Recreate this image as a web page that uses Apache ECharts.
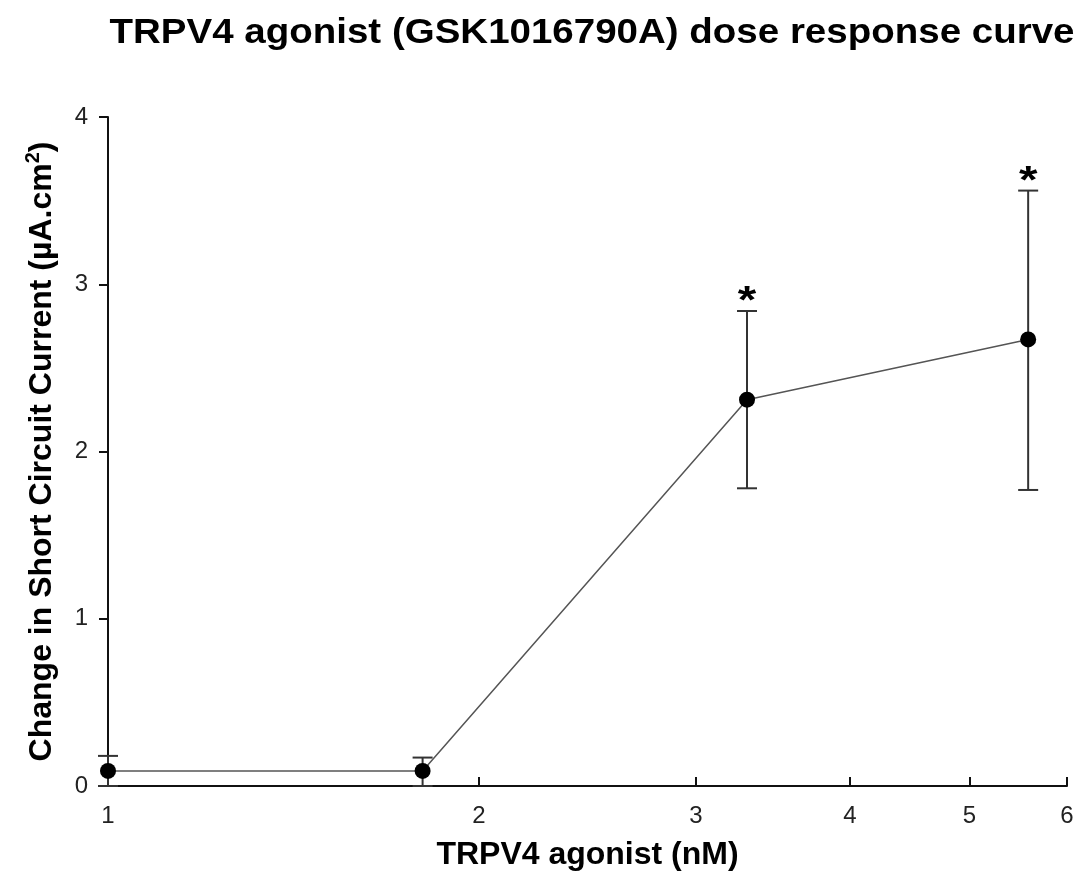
<!DOCTYPE html>
<html>
<head>
<meta charset="utf-8">
<script src="https://cdn.jsdelivr.net/npm/echarts@6/dist/echarts.min.js"></script>
<style>html,body{margin:0;padding:0;background:#fff;}#c{width:1084px;height:876px;}</style>
</head>
<body>
<div id="c"></div>
<script>
var doses = [1, 1.8, 3.3, 5.58];
var means = [0.09, 0.09, 2.31, 2.67];
var errLow = [0.0, 0.0, 1.78, 1.77];
var errHigh = [0.18, 0.17, 2.84, 3.56];
var significant = [false, false, true, true];
var xTicks = [2, 3, 4, 5, 6];
var xLabels = [1, 2, 3, 4, 5, 6];
var titleText = 'TRPV4 agonist (GSK1016790A) dose response curve';

var chart = echarts.init(document.getElementById('c'));
var errData = doses.map(function (d, i) { return [d, errLow[i], errHigh[i], significant[i] ? 1 : 0]; });
var lineData = doses.map(function (d, i) { return [d, means[i]]; });

chart.setOption({
  animation: false,
  graphic: [{
    type: 'text', x: 592, y: 33, scaleX: 1.1,
    style: { text: titleText, font: 'bold 35px "Liberation Sans"', fill: '#000', align: 'center', verticalAlign: 'middle' }
  }],
  grid: { left: 108, right: 17, top: 117, bottom: 89 },
  xAxis: {
    type: 'log', logBase: 10, min: 1, max: 6,
    name: 'TRPV4 agonist (nM)', nameLocation: 'middle', nameGap: 53,
    nameTextStyle: { fontFamily: 'Liberation Sans', fontWeight: 'bold', fontSize: 32, color: '#000' },
    axisLine: { onZero: false, lineStyle: { color: '#111', width: 2 } },
    axisTick: { show: true, inside: true, length: 9, lineStyle: { color: '#111', width: 2 }, customValues: xTicks },
    axisLabel: { customValues: xLabels, margin: 18, fontFamily: 'Liberation Sans', fontSize: 24, color: '#222',
      formatter: function (v) { return String(Math.round(v)); } },
    splitLine: { show: false },
    minorTick: { show: false }
  },
  yAxis: {
    type: 'value', min: 0, max: 4, interval: 1,
    name: '{t|Change in Short Circuit Current (µA.cm}{s|2}{t|)}', nameLocation: 'middle', nameGap: 47,
    nameRotate: 90,
    nameTextStyle: { rich: {
      t: { fontFamily: 'Liberation Sans', fontWeight: 'bold', fontSize: 32, color: '#000' },
      s: { fontFamily: 'Liberation Sans', fontWeight: 'bold', fontSize: 20, color: '#000', verticalAlign: 'top', padding: [0, 0, 18, 0] }
    } },
    axisLine: { show: true, lineStyle: { color: '#111', width: 2 } },
    axisTick: { show: true, inside: false, length: 9, lineStyle: { color: '#111', width: 2 } },
    axisLabel: { margin: 20, fontFamily: 'Liberation Sans', fontSize: 24, color: '#222' },
    splitLine: { show: false }
  },
  series: [
    {
      type: 'custom',
      data: errData,
      clip: false,
      z: 1,
      renderItem: function (params, api) {
        var x = api.value(0), lo = api.value(1), hi = api.value(2), sig = api.value(3);
        var pLo = api.coord([x, lo]), pHi = api.coord([x, hi]);
        var cap = 10;
        var style = { stroke: '#333', lineWidth: 2 };
        var children = [
          { type: 'line', shape: { x1: pLo[0], y1: pLo[1], x2: pHi[0], y2: pHi[1] }, style: style },
          { type: 'line', shape: { x1: pHi[0] - cap, y1: pHi[1], x2: pHi[0] + cap, y2: pHi[1] }, style: style },
          { type: 'line', shape: { x1: pLo[0] - cap, y1: pLo[1], x2: pLo[0] + cap, y2: pLo[1] }, style: style }
        ];
        if (sig) {
          children.push({ type: 'text', x: pHi[0], y: pHi[1] + 11, scaleX: 1.25,
            style: { text: '*', fill: '#000', font: 'bold 38px "Liberation Sans"', align: 'center', verticalAlign: 'bottom' } });
        }
        return { type: 'group', children: children };
      }
    },
    {
      type: 'line',
      data: lineData,
      z: 2,
      symbol: 'circle', symbolSize: 16,
      itemStyle: { color: '#000' },
      lineStyle: { color: '#555', width: 1.5 }
    }
  ]
});
</script>
</body>
</html>
